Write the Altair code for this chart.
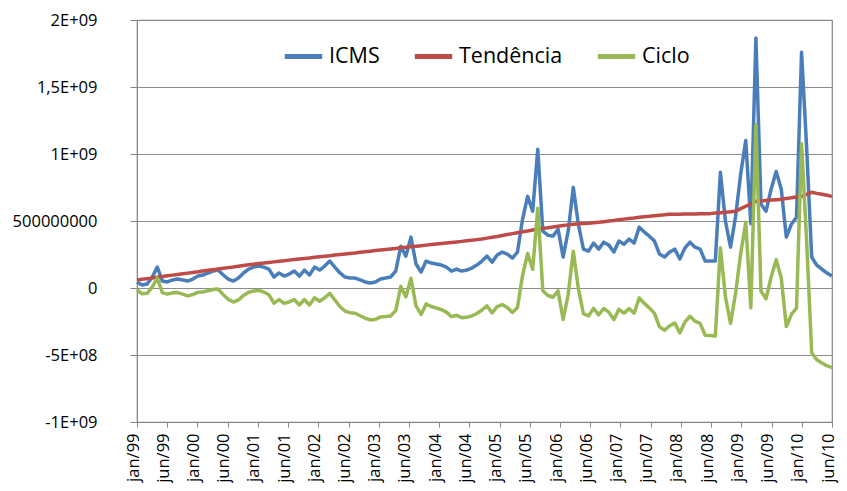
import altair as alt
import pandas as pd

# Monthly series, jan/99 .. jun/10, values in millions (R$)
icms = [45, 22, 30, 82, 156, 52, 45, 60, 67, 60, 52, 67, 89, 97, 112, 126, 134, 97, 67, 52,
        74, 112, 141, 156, 164, 156, 141, 82, 112, 89, 104, 126, 89, 134, 97, 156, 134, 164, 201, 156,
        112, 82, 74, 74, 60, 45, 37, 45, 67, 74, 82, 126, 312, 238, 380, 179, 119, 201, 186, 179,
        171, 156, 126, 141, 126, 134, 149, 171, 201, 238, 193, 246, 268, 253, 223, 268, 513, 684, 573, 1035,
        424, 394, 387, 439, 231, 424, 751, 476, 290, 275, 335, 290, 342, 320, 268, 350, 327, 365, 335, 454,
        417, 387, 350, 253, 231, 268, 290, 216, 298, 342, 305, 290, 201, 201, 201, 863, 498, 305, 536, 850,
        1100, 480, 1865, 625, 573, 737, 870, 737, 380, 476, 528, 1760, 1050, 230, 170, 140, 112, 89]

tendencia = [60, 65, 70, 75, 81, 86, 91, 96, 101, 106, 111, 116, 121, 127, 132, 137, 142, 147, 152, 157,
             163, 168, 173, 178, 182, 186, 191, 195, 199, 203, 208, 212, 216, 220, 224, 229, 233, 237, 241, 246,
             250, 254, 258, 262, 267, 271, 275, 279, 283, 287, 291, 295, 300, 304, 308, 312, 316, 320, 324, 328,
             332, 336, 340, 344, 348, 353, 357, 361, 365, 372, 379, 385, 392, 399, 406, 413, 420, 426, 433, 440,
             445, 450, 456, 461, 466, 471, 476, 479, 482, 484, 487, 490, 495, 500, 504, 509, 514, 519, 523, 528,
             532, 535, 539, 543, 546, 550, 551, 551, 552, 553, 553, 554, 554, 555, 559, 562, 566, 569, 573, 592,
             610, 628, 647, 650, 653, 656, 659, 662, 668, 673, 679, 684, 699, 714, 706, 699, 692, 684]

ciclo = [-15, -43, -40, 7, 75, -34, -46, -36, -34, -46, -59, -49, -32, -30, -20, -11, -8, -50, -85, -105,
         -89, -56, -32, -22, -18, -30, -50, -113, -87, -114, -104, -86, -127, -86, -127, -73, -99, -73, -40, -90,
         -138, -172, -184, -188, -207, -226, -238, -234, -216, -213, -209, -169, 12, -66, 72, -133, -197, -119, -138, -149,
         -161, -180, -214, -203, -222, -219, -208, -190, -164, -134, -186, -139, -124, -146, -183, -145, 93, 258, 140, 595,
         -21, -56, -69, -22, -235, -47, 275, -3, -192, -209, -152, -200, -153, -180, -236, -159, -187, -154, -188, -74,
         -115, -148, -189, -290, -315, -282, -261, -335, -254, -211, -248, -264, -353, -354, -358, 301, -68, -264, -37, 258,
         490, -148, 1218, -25, -80, 81, 211, 75, -288, -197, -151, 1076, 351, -484, -536, -559, -580, -595]

series_names = ["ICMS", "Tendência", "Ciclo"]
series_colors = ["#4A7EBB", "#BE4B48", "#98B954"]

x_labels = ["jan/99", "jun/99", "jan/00", "jun/00", "jan/01", "jun/01", "jan/02", "jun/02",
            "jan/03", "jun/03", "jan/04", "jun/04", "jan/05", "jun/05", "jan/06", "jun/06",
            "jan/07", "jun/07", "jan/08", "jun/08", "jan/09", "jun/09", "jan/10", "jun/10"]

y_ticks = [-1e9, -5e8, 0, 5e8, 1e9, 1.5e9, 2e9]
y_labels = ["-1E+09", "-5E+08", "0", "500000000", "1E+09", "1,5E+09", "2E+09"]

rows = []
for name, vals in zip(series_names, [icms, tendencia, ciclo]):
    for i, v in enumerate(vals):
        rows.append({"idx": i, "valor": v * 1e6, "serie": name})
df = pd.DataFrame(rows)

n = len(icms)
last = n - 1
steps = len(x_labels) - 1
x_tick_vals = [k * last / steps for k in range(len(x_labels))]
x_label_expr = "[" + ",".join(f"'{s}'" for s in x_labels) + f"][round(datum.value*{steps}/{last})]"
y_label_expr = "[" + ",".join(f"'{s}'" for s in y_labels) + "][round((datum.value+1e9)/5e8)]"

FONT = "Open Sans"

x_enc = alt.X("idx:Q",
              scale=alt.Scale(domain=[0, last], nice=False, zero=False),
              axis=alt.Axis(values=x_tick_vals, labelExpr=x_label_expr, title=None,
                            grid=False, labelAngle=270, labelAlign="right", labelBaseline="middle",
                            labelFont=FONT, labelFontSize=16.5, labelColor="#000000",
                            tickSize=5, tickColor="#868686", domainColor="#868686",
                            labelPadding=6, labelOffset=-4, labelOverlap=False, labelFlush=False))
y_enc = alt.Y("valor:Q",
              scale=alt.Scale(domain=[-1e9, 2e9], nice=False, zero=False),
              axis=alt.Axis(values=y_ticks, labelExpr=y_label_expr, title=None,
                            grid=True, gridColor="#8c8c8c", gridWidth=1,
                            labelFont=FONT, labelFontSize=16.5, labelColor="#000000",
                            tickSize=7, tickColor="#868686", domainColor="#868686",
                            labelPadding=33))
color_enc = alt.Color("serie:N",
                      scale=alt.Scale(domain=series_names, range=series_colors),
                      legend=alt.Legend(title=None, orient="none", direction="horizontal",
                                        legendX=145, legendY=15,
                                        symbolType="stroke", symbolSize=1400, symbolStrokeWidth=5,
                                        labelFont=FONT, labelFontSize=21.5, labelColor="#000000",
                                        labelOffset=4, columnPadding=24))

base = alt.Chart(df).encode(x=x_enc, y=y_enc, color=color_enc)
layers = [base.transform_filter(alt.datum.serie == s).mark_line(strokeWidth=3.5, strokeJoin="round")
          for s in series_names]

chart = alt.layer(*layers).properties(
    width=695, height=402,
    padding={"left": 129, "top": 12, "right": 7, "bottom": 61},
    autosize=alt.AutoSizeParams(type="none"),
    background="#ffffff",
).configure_view(stroke="#868686", strokeWidth=1.2)

chart.save("out.html", embed_options={"renderer": "svg", "actions": False})
